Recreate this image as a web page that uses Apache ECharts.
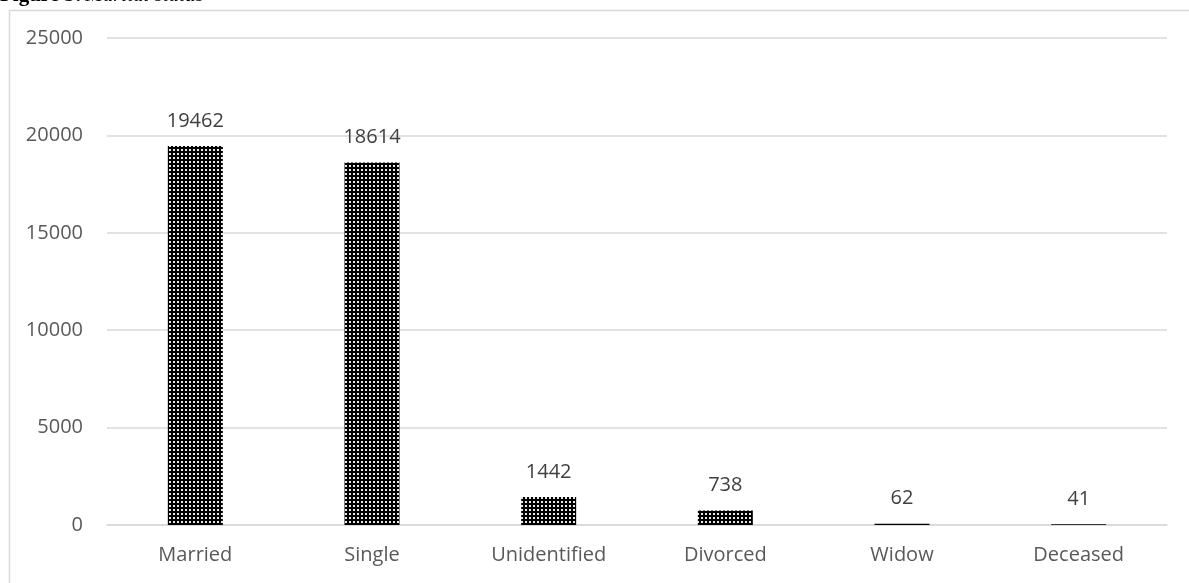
<!DOCTYPE html>
<html>
<head>
<meta charset="utf-8">
<style>
  html, body { margin: 0; padding: 0; background: #fff; }
  #chart { width: 1189px; height: 583px; }
</style>
<script src="https://cdn.jsdelivr.net/npm/echarts@6/dist/echarts.min.js"></script>
</head>
<body>
<div id="chart"></div>
<script>
// Marital status counts
const categories = ['Married', 'Single', 'Unidentified', 'Divorced', 'Widow', 'Deceased'];
const counts = [19462, 18614, 1442, 738, 62, 41];
const yTicks = { min: 0, max: 25000, interval: 5000 };

// Dotted fill: black tile with a light dot, repeated over each bar
function dotPattern() {
  const c = document.createElement('canvas');
  c.width = 4; c.height = 4;
  const g = c.getContext('2d');
  g.fillStyle = '#000';
  g.fillRect(0, 0, 4, 4);
  g.fillStyle = '#e8e8e8';
  g.fillRect(1, 1, 2, 2);
  return c;
}

const chart = echarts.init(document.getElementById('chart'));
const font = '"Open Sans", "Noto Sans", sans-serif';

chart.setOption({
  animation: false,
  backgroundColor: '#fff',
  graphic: [
    {
      type: 'rect',
      left: 7, top: 8,
      shape: { width: 1300, height: 700 },
      style: { fill: 'none', stroke: '#d9d9d9', lineWidth: 1.5 },
      silent: true
    },
    {
      type: 'text',
      left: 0, top: -15,
      style: {
        text: '{b|Figure 3:} {i|Marital status}',
        rich: {
          b: { fontFamily: '"Liberation Serif", serif', fontWeight: 'bold', fontSize: 21, fill: '#000' },
          i: { fontFamily: '"Liberation Serif", serif', fontStyle: 'italic', fontSize: 21, fill: '#000' }
        }
      }
    }
  ],
  grid: { left: 107, right: 22, top: 38, bottom: 58, containLabel: false },
  xAxis: {
    type: 'category',
    data: categories,
    axisLine: { show: true, lineStyle: { color: '#d9d9d9', width: 1.5 } },
    axisTick: { show: false },
    axisLabel: { color: '#595959', fontSize: 20, fontFamily: font, margin: 20 }
  },
  yAxis: {
    type: 'value',
    min: yTicks.min, max: yTicks.max, interval: yTicks.interval,
    axisLine: { show: false },
    axisTick: { show: false },
    splitLine: { lineStyle: { color: '#d9d9d9', width: 1.5 } },
    axisLabel: { color: '#595959', fontSize: 20, fontFamily: font, margin: 24, formatter: v => String(v) }
  },
  series: [{
    type: 'bar',
    data: counts,
    barWidth: 55,
    itemStyle: { color: { image: dotPattern(), repeat: 'repeat' } },
    label: {
      show: true,
      position: 'top',
      distance: 15,
      color: '#404040',
      fontSize: 20,
      fontFamily: font
    }
  }]
});
</script>
</body>
</html>
